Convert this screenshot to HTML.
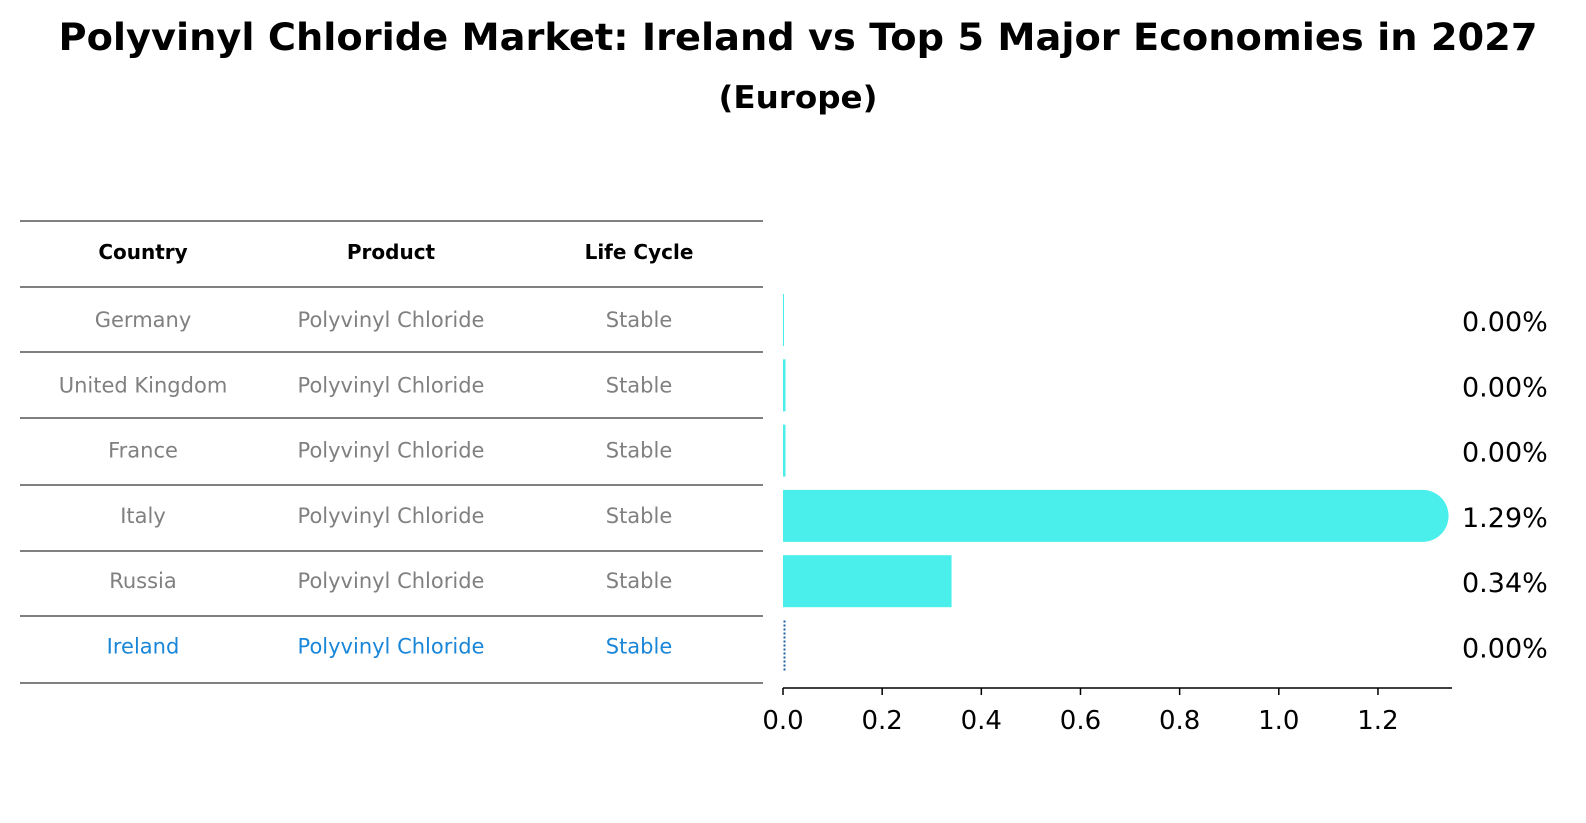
<!DOCTYPE html>
<html><head><meta charset="utf-8"><style>
html,body{margin:0;padding:0;background:#fff;overflow:hidden;width:1586px;height:823px}
svg{display:block}
</style></head><body>
<svg width="1586" height="823" xmlns="http://www.w3.org/2000/svg" font-family="DejaVu Sans, Liberation Sans, sans-serif">
<text x="798" y="50" text-anchor="middle" font-size="37" font-weight="bold" textLength="1479" lengthAdjust="spacingAndGlyphs">Polyvinyl Chloride Market: Ireland vs Top 5 Major Economies in 2027</text>
<text x="798" y="108" text-anchor="middle" font-size="31" font-weight="bold" textLength="159" lengthAdjust="spacingAndGlyphs">(Europe)</text>
<g id="table"></g>
<g id="bars"></g>
</svg>
<script>
const countries=["Germany","United Kingdom","France","Italy","Russia","Ireland"];
const products=["Polyvinyl Chloride","Polyvinyl Chloride","Polyvinyl Chloride","Polyvinyl Chloride","Polyvinyl Chloride","Polyvinyl Chloride"];
const lifecycle=["Stable","Stable","Stable","Stable","Stable","Stable"];
const values=[0.002,0.005,0.005,1.29,0.34,0.003];
const labels=["0.00%","0.00%","0.00%","1.29%","0.34%","0.00%"];
const ticks=[0,0.2,0.4,0.6,0.8,1.0,1.2];
const NS="http://www.w3.org/2000/svg";
function mk(t,a,p){const e=document.createElementNS(NS,t);for(const k in a)e.setAttribute(k,a[k]);p.appendChild(e);return e;}
const x=v=>783+v*495.8;
const rowY=i=>320+i*65.3;
const tg=document.getElementById('table');
const lines=[221,287,352,418,485,551,616,683];
lines.forEach(y=>{const l=mk('line',{x1:20,x2:763,y1:y,y2:y,stroke:'#000','stroke-width':1},tg);

});
const cx=[143,391,639];
["Country","Product","Life Cycle"].forEach((h,j)=>{const t=mk('text',{x:cx[j],y:259,'text-anchor':'middle','font-size':20,'font-weight':'bold'},tg);t.textContent=h;

});
countries.forEach((c,i)=>{const col=i==5?'#1a86d8':'#808080';
[c,products[i],lifecycle[i]].forEach((s,j)=>{const t=mk('text',{x:cx[j],y:rowY(i)+7,'text-anchor':'middle','font-size':21,fill:col},tg);t.textContent=s;

});});
const bg=document.getElementById('bars');
values.forEach((v,i)=>{const y=rowY(i)-26,w=Math.max(x(v)-x(0),1);
let b;
if(i==5){b=mk('line',{x1:x(0)+1.5,x2:x(0)+1.5,y1:y,y2:y+52,stroke:'#1f5fa0','stroke-width':2,'stroke-dasharray':'2,2'},bg);}
else if(v>1){b=mk('path',{d:`M${x(0)},${y}H${x(v)}a26,26 0 0 1 0,52H${x(0)}Z`,fill:'#4aeeea'},bg);}
else b=mk('rect',{x:x(0),y:y,width:w,height:52,fill:'#4aeeea'},bg);


const t=mk('text',{x:1462,y:rowY(i)+11,'font-size':27},bg);t.textContent=labels[i];

});
const ax=mk('line',{x1:x(0),x2:1452,y1:688,y2:688,stroke:'#000','stroke-width':1.5},bg);


ticks.forEach(v=>{const l=mk('line',{x1:x(v),x2:x(v),y1:688,y2:695,stroke:'#000','stroke-width':1.5},bg);


const t=mk('text',{x:x(v),y:729,'text-anchor':'middle','font-size':26},bg);t.textContent=v.toFixed(1);

});
</script>
</body></html>
